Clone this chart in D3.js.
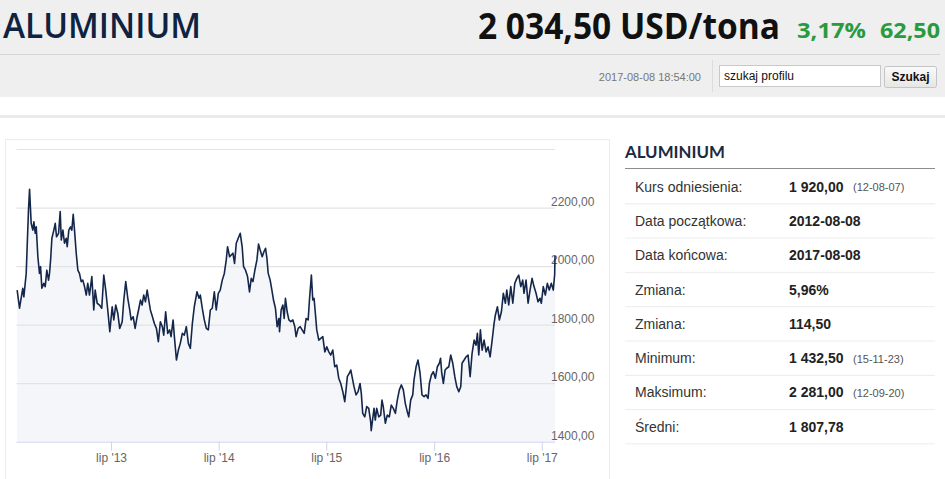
<!DOCTYPE html>
<html><head><meta charset="utf-8">
<script src="https://cdn.jsdelivr.net/npm/d3@7"></script>
<style>html,body{margin:0;padding:0;background:#fff;overflow:hidden}</style>
</head><body>
<svg id="c" width="945" height="479"></svg>
<script>
// ---- data (decimal years, USD/tona) ----
const years = [2012.606,2012.628,2012.658,2012.668,2012.690,2012.711,2012.721,2012.736,2012.751,2012.761,2012.774,2012.783,2012.798,2012.813,2012.823,2012.835,2012.853,2012.866,2012.881,2012.897,2012.906,2012.916,2012.928,2012.946,2012.959,2012.971,2012.990,2013.005,2013.015,2013.030,2013.045,2013.061,2013.070,2013.085,2013.101,2013.113,2013.126,2013.138,2013.154,2013.169,2013.184,2013.200,2013.215,2013.231,2013.247,2013.261,2013.277,2013.299,2013.317,2013.330,2013.349,2013.370,2013.391,2013.410,2013.428,2013.447,2013.466,2013.488,2013.503,2013.521,2013.540,2013.558,2013.581,2013.596,2013.614,2013.633,2013.651,2013.664,2013.683,2013.701,2013.720,2013.739,2013.751,2013.766,2013.781,2013.797,2013.813,2013.828,2013.843,2013.862,2013.880,2013.899,2013.917,2013.936,2013.954,2013.967,2013.985,2014.004,2014.022,2014.035,2014.054,2014.066,2014.085,2014.103,2014.121,2014.140,2014.158,2014.177,2014.196,2014.214,2014.233,2014.251,2014.276,2014.295,2014.307,2014.325,2014.344,2014.363,2014.381,2014.400,2014.418,2014.437,2014.455,2014.474,2014.492,2014.511,2014.530,2014.548,2014.560,2014.579,2014.610,2014.625,2014.641,2014.659,2014.678,2014.696,2014.709,2014.727,2014.746,2014.764,2014.780,2014.796,2014.814,2014.833,2014.848,2014.863,2014.882,2014.898,2014.913,2014.926,2014.938,2014.956,2014.972,2014.987,2015.005,2015.021,2015.037,2015.043,2015.058,2015.074,2015.086,2015.098,2015.114,2015.130,2015.148,2015.167,2015.185,2015.197,2015.216,2015.235,2015.253,2015.272,2015.290,2015.309,2015.321,2015.339,2015.352,2015.364,2015.376,2015.389,2015.408,2015.426,2015.445,2015.464,2015.482,2015.501,2015.519,2015.538,2015.556,2015.575,2015.593,2015.612,2015.631,2015.649,2015.661,2015.673,2015.692,2015.705,2015.717,2015.735,2015.754,2015.773,2015.791,2015.803,2015.816,2015.835,2015.853,2015.872,2015.890,2015.895,2015.921,2015.933,2015.946,2015.965,2015.983,2015.995,2016.007,2016.026,2016.044,2016.063,2016.081,2016.100,2016.119,2016.137,2016.156,2016.174,2016.193,2016.211,2016.230,2016.243,2016.261,2016.280,2016.292,2016.311,2016.329,2016.348,2016.366,2016.385,2016.403,2016.422,2016.434,2016.453,2016.471,2016.490,2016.508,2016.527,2016.538,2016.549,2016.564,2016.580,2016.595,2016.614,2016.632,2016.651,2016.670,2016.688,2016.707,2016.725,2016.737,2016.756,2016.774,2016.793,2016.812,2016.830,2016.849,2016.867,2016.879,2016.892,2016.907,2016.923,2016.941,2016.960,2016.978,2016.997,2017.016,2017.034,2017.046,2017.065,2017.083,2017.102,2017.120,2017.139,2017.152,2017.170,2017.189,2017.208,2017.226,2017.245,2017.263,2017.282,2017.300,2017.312,2017.331,2017.350,2017.368,2017.387,2017.405,2017.424,2017.442,2017.461,2017.473,2017.491,2017.510,2017.529,2017.547,2017.566,2017.584,2017.597,2017.600];
const prices = [1918,1856,1924,1895,1975,2191,2262,2146,2123,2151,2112,2134,2032,1975,1998,1924,1941,1930,1986,1952,1975,2021,2095,2123,2146,2100,2112,2186,2089,2123,2078,2095,2066,2123,2134,2123,2177,2123,2044,1986,1975,1947,1952,1930,1901,1941,1901,1964,1850,1918,1873,1867,1856,1969,1918,1850,1776,1861,1816,1867,1839,1787,1810,1884,1947,1890,1850,1816,1827,1787,1827,1861,1884,1867,1901,1878,1918,1884,1850,1827,1804,1787,1742,1810,1793,1764,1844,1770,1782,1759,1816,1759,1679,1713,1736,1770,1764,1793,1736,1719,1804,1861,1912,1890,1901,1856,1816,1787,1782,1850,1856,1912,1850,1907,1918,1952,1975,2021,2066,2032,2044,2009,2078,2095,2112,2066,1998,1986,1964,1912,1958,1947,1986,2021,2075,2055,2032,2049,2061,2026,1975,1952,1918,1884,1856,1793,1821,1776,1850,1867,1821,1890,1844,1816,1810,1816,1793,1759,1787,1793,1782,1770,1821,1816,1884,1969,1884,1890,1839,1782,1747,1753,1759,1707,1724,1707,1696,1713,1656,1662,1617,1599,1571,1537,1577,1622,1634,1645,1622,1588,1560,1571,1599,1565,1497,1485,1520,1514,1468,1438,1514,1474,1514,1485,1491,1542,1520,1463,1491,1485,1525,1514,1497,1542,1577,1594,1577,1531,1502,1485,1542,1560,1611,1656,1679,1634,1560,1554,1560,1548,1599,1628,1639,1617,1656,1668,1685,1634,1599,1645,1651,1656,1696,1668,1622,1588,1571,1588,1668,1679,1690,1696,1622,1702,1747,1730,1770,1696,1782,1713,1747,1707,1724,1690,1747,1804,1833,1861,1816,1844,1907,1873,1918,1867,1930,1873,1941,1958,1969,1930,1952,1907,1952,1873,1918,1958,1930,1907,1878,1890,1873,1930,1901,1941,1918,1941,1918,1972,2034.5];
const yTicks = [1400,1600,1800,2000,2200,2400];
const xTickYears = [2013,2014,2015,2016,2017];
const monthShort = "lip";
const statLabels = ["Kurs odniesienia:","Data początkowa:","Data końcowa:","Zmiana:","Zmiana:","Minimum:","Maksimum:","Średni:"];
const statValues = ["1 920,00","2012-08-08","2017-08-08","5,96%","114,50","1 432,50","2 281,00","1 807,78"];
const statNotes  = ["(12-08-07)","","","","","(15-11-23)","(12-09-20)",""];

const svg = d3.select("#c");
const SANS = "'Liberation Sans', Arial, sans-serif";

// ---- header ----
svg.append("rect").attr("x",0).attr("y",0).attr("width",945).attr("height",97).attr("fill","#efefef");
svg.append("line").attr("x1",0).attr("x2",940).attr("y1",54.5).attr("y2",54.5).attr("stroke","#d5d5d5");
svg.append("rect").attr("x",0).attr("y",115).attr("width",945).attr("height",3).attr("fill","#ebebeb");

svg.append("text").attr("x",3).attr("y",38).text("ALUMINIUM")
  .attr("font-family","'Open Sans', sans-serif").attr("font-weight",600).attr("font-size",35)
  .attr("fill","#0e2341").attr("textLength",198).attr("lengthAdjust","spacingAndGlyphs");
svg.append("text").attr("x",478).attr("y",39).text("2 034,50 USD/tona")
  .attr("font-family","'Open Sans', sans-serif").attr("font-weight",700).attr("font-size",36)
  .attr("fill","#111").attr("textLength",302).attr("lengthAdjust","spacingAndGlyphs");
svg.append("text").attr("x",797).attr("y",38).text("3,17%")
  .attr("font-family","'Open Sans', sans-serif").attr("font-weight",700).attr("font-size",21)
  .attr("fill","#2a9a3e").attr("textLength",69).attr("lengthAdjust","spacingAndGlyphs");
svg.append("text").attr("x",880).attr("y",38).text("62,50")
  .attr("font-family","'Open Sans', sans-serif").attr("font-weight",700).attr("font-size",21)
  .attr("fill","#2a9a3e").attr("textLength",60).attr("lengthAdjust","spacingAndGlyphs");

svg.append("text").attr("x",701).attr("y",80.5).attr("text-anchor","end").text("2017-08-08 18:54:00")
  .attr("font-family",SANS).attr("font-size",11).attr("fill","#777");
svg.append("line").attr("x1",712.5).attr("x2",712.5).attr("y1",60).attr("y2",92).attr("stroke","#dcdcdc");
svg.append("rect").attr("x",719.5).attr("y",65.5).attr("width",161).attr("height",21).attr("fill","#fff").attr("stroke","#c8c8c8");
svg.append("text").attr("x",724).attr("y",80).text("szukaj profilu")
  .attr("font-family",SANS).attr("font-size",12).attr("fill","#111");
const grad = svg.append("defs").append("linearGradient").attr("id","btn").attr("x1",0).attr("x2",0).attr("y1",0).attr("y2",1);
grad.append("stop").attr("offset","0%").attr("stop-color","#fafafa");
grad.append("stop").attr("offset","100%").attr("stop-color","#e6e6e6");
svg.append("rect").attr("x",884.5).attr("y",66.5).attr("width",52).attr("height",21).attr("rx",2).attr("fill","url(#btn)").attr("stroke","#c4c4c4");
svg.append("text").attr("x",910.5).attr("y",81).attr("text-anchor","middle").text("Szukaj")
  .attr("font-family",SANS).attr("font-weight",700).attr("font-size",12).attr("fill","#111");

// ---- chart panel ----
svg.append("rect").attr("x",5.5).attr("y",139.5).attr("width",604).attr("height",360).attr("fill","#fff").attr("stroke","#ececec");

function toDate(t){
  const Y = Math.floor(t), a = new Date(Y,0,1).getTime(), b = new Date(Y+1,0,1).getTime();
  return new Date(a + (t-Y)*(b-a));
}
const data = years.map((t,i)=>({d:toDate(t), v:prices[i]}));
const plotL = 16.5, plotR = 555, plotT = 149, plotB = 441.7;
const x = d3.scaleTime().domain([toDate(2012.6), toDate(2017.6)]).range([plotL, plotR]);
const y = d3.scaleLinear().domain([1400,2400]).range([plotB, plotT]);

const area = d3.area().x(d=>x(d.d)).y0(y(1400)).y1(d=>y(d.v));
svg.append("path").datum(data).attr("d",area).attr("fill","#f4f6f9");

// grid
const yAxis = d3.axisRight(y).tickValues(yTicks).tickSize(plotR-plotL).tickFormat("");
const gy = svg.append("g").attr("transform",`translate(${plotL},0)`).call(yAxis);
gy.select(".domain").remove();
gy.selectAll(".tick line").attr("stroke","#e3e3e3").attr("stroke-width",1.2);
gy.selectAll(".tick").filter(d=>d===1400).remove();

// y labels
svg.append("g").selectAll("text").data(yTicks.filter(v=>v<2400)).join("text")
  .attr("x",551).attr("y",v=>y(v)-2).text(v=>v+",00")
  .attr("font-family",SANS).attr("font-size",12).attr("fill","#666");

// x axis
const xTicks = xTickYears.map(Y=>new Date(Y,6,1));
const xAxis = d3.axisBottom(x).tickValues(xTicks).tickSize(9).tickPadding(3)
  .tickFormat(d=>monthShort+" '"+String(d.getFullYear()).slice(2));
const gx = svg.append("g").attr("transform",`translate(-2,${plotB})`).call(xAxis);
gx.select(".domain").attr("stroke","#ccd6eb").attr("d",`M${plotL+2},0.5H${plotR+2}`);
gx.selectAll(".tick line").attr("stroke","#ccd6eb");
gx.selectAll(".tick text").attr("font-family",SANS).attr("font-size",12).attr("fill","#666");

// line
const line = d3.line().x(d=>x(d.d)).y(d=>y(d.v));
svg.append("path").datum(data).attr("d",line).attr("fill","none")
  .attr("stroke","#14274a").attr("stroke-width",1.6).attr("stroke-linejoin","round");

// ---- stats panel ----
svg.append("text").attr("x",625).attr("y",158).text("ALUMINIUM")
  .attr("font-family","Lato, sans-serif").attr("font-weight",700).attr("font-size",17.5)
  .attr("fill","#1b2a3f").attr("textLength",100).attr("lengthAdjust","spacingAndGlyphs");
svg.append("line").attr("x1",625).attr("x2",935).attr("y1",168.5).attr("y2",168.5).attr("stroke","#8d8d8d");
const rowH = 34.3, row0 = 169;
const rows = svg.append("g").selectAll("g").data(statLabels).join("g")
  .attr("transform",(d,i)=>`translate(0,${row0 + i*rowH})`);
rows.append("line").attr("x1",625).attr("x2",935).attr("y1",rowH+0.5).attr("y2",rowH+0.5).attr("stroke","#ececec");
rows.append("text").attr("x",635).attr("y",rowH/2+5.5).text(d=>d)
  .attr("font-family",SANS).attr("font-size",14).attr("fill","#333");
rows.append("text").attr("x",789).attr("y",rowH/2+5.5).text((d,i)=>statValues[i])
  .attr("font-family",SANS).attr("font-weight",700).attr("font-size",14).attr("fill","#222");
rows.append("text").attr("x",853).attr("y",rowH/2+5).text((d,i)=>statNotes[i])
  .attr("font-family",SANS).attr("font-size",11).attr("fill","#555");
</script>
</body></html>
